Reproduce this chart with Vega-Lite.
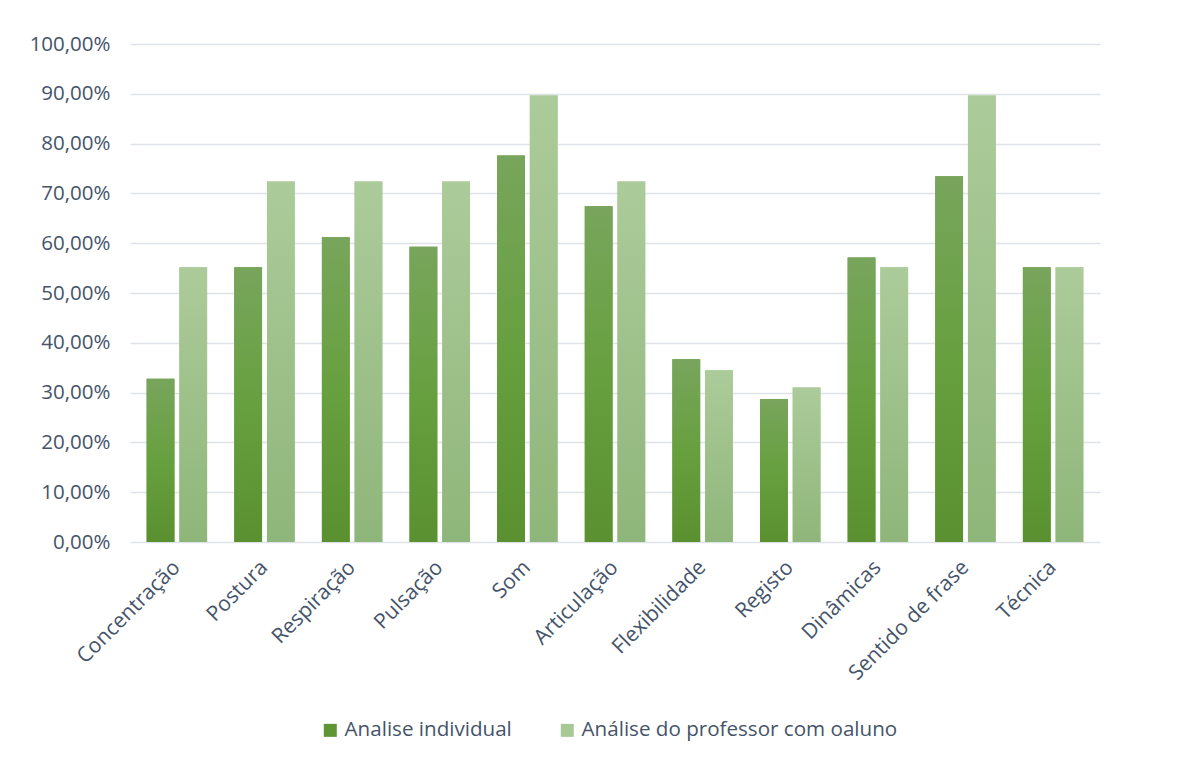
{
  "$schema": "https://vega.github.io/schema/vega-lite/v6.json",
  "width": 970,
  "height": 498,
  "autosize": {"type": "none"},
  "padding": {"left": 130, "top": 44, "right": 92, "bottom": 218},
  "background": "white",
  "config": {
    "view": {"stroke": null},
    "font": "Open Sans",
    "axis": {"labelFont": "Open Sans", "labelColor": "#44546a", "labelFontSize": 18}
  },
  "data": {
    "values": [
      {"categoria": "Concentração", "serie": "Analise individual", "valor": 0.3276},
      {"categoria": "Concentração", "serie": "Análise do professor com oaluno", "valor": 0.5517},
      {"categoria": "Postura", "serie": "Analise individual", "valor": 0.5517},
      {"categoria": "Postura", "serie": "Análise do professor com oaluno", "valor": 0.7241},
      {"categoria": "Respiração", "serie": "Analise individual", "valor": 0.6121},
      {"categoria": "Respiração", "serie": "Análise do professor com oaluno", "valor": 0.7241},
      {"categoria": "Pulsação", "serie": "Analise individual", "valor": 0.5929},
      {"categoria": "Pulsação", "serie": "Análise do professor com oaluno", "valor": 0.7241},
      {"categoria": "Som", "serie": "Analise individual", "valor": 0.7759},
      {"categoria": "Som", "serie": "Análise do professor com oaluno", "valor": 0.8966},
      {"categoria": "Articulação", "serie": "Analise individual", "valor": 0.6741},
      {"categoria": "Articulação", "serie": "Análise do professor com oaluno", "valor": 0.7241},
      {"categoria": "Flexibilidade", "serie": "Analise individual", "valor": 0.3672},
      {"categoria": "Flexibilidade", "serie": "Análise do professor com oaluno", "valor": 0.3448},
      {"categoria": "Registo", "serie": "Analise individual", "valor": 0.2871},
      {"categoria": "Registo", "serie": "Análise do professor com oaluno", "valor": 0.3103},
      {"categoria": "Dinâmicas", "serie": "Analise individual", "valor": 0.5714},
      {"categoria": "Dinâmicas", "serie": "Análise do professor com oaluno", "valor": 0.5517},
      {"categoria": "Sentido de frase", "serie": "Analise individual", "valor": 0.7345},
      {"categoria": "Sentido de frase", "serie": "Análise do professor com oaluno", "valor": 0.8966},
      {"categoria": "Técnica", "serie": "Analise individual", "valor": 0.5517},
      {"categoria": "Técnica", "serie": "Análise do professor com oaluno", "valor": 0.5517}
    ]
  },
  "encoding": {
    "x": {
      "field": "categoria",
      "type": "nominal",
      "sort": null,
      "title": null,
      "scale": {"paddingInner": 0.31, "paddingOuter": 0.19},
      "axis": {
        "labelAngle": -45,
        "labelAlign": "right",
        "labelBaseline": "middle",
        "labelPadding": 22,
        "ticks": false,
        "domain": false,
        "grid": false,
        "labelFontSize": 21,
        "labelLimit": 0
      }
    },
    "xOffset": {
      "field": "serie",
      "type": "nominal",
      "sort": ["Analise individual", "Análise do professor com oaluno"],
      "scale": {"paddingInner": 0.15}
    },
    "y": {
      "field": "valor",
      "type": "quantitative",
      "title": null,
      "scale": {"domain": [0, 1], "nice": false},
      "axis": {
        "values": [0, 0.1, 0.2, 0.3, 0.4, 0.5, 0.6, 0.7, 0.8, 0.9, 1],
        "labelExpr": "replace(format(datum.value, '.2%'), '.', ',')",
        "grid": true,
        "gridColor": "#dfe3e8",
        "gridWidth": 1.5,
        "ticks": false,
        "domain": false,
        "labelPadding": 20,
        "labelFontSize": 20.5
      }
    }
  },
  "layer": [
    {
      "mark": {"type": "bar"},
      "encoding": {
        "color": {
          "field": "serie",
          "type": "nominal",
          "sort": ["Analise individual", "Análise do professor com oaluno"],
          "scale": {"range": ["#5e9634", "#a6c995"]},
          "legend": {
            "title": null,
            "orient": "none",
            "direction": "horizontal",
            "legendX": 190,
            "legendY": 676,
            "symbolType": "square",
            "symbolSize": 169,
            "symbolStrokeWidth": 0,
            "symbolOpacity": 1,
            "labelFont": "Open Sans",
            "labelFontSize": 20.6,
            "labelColor": "#44546a",
            "labelOffset": 4,
            "labelLimit": 0,
            "columnPadding": 45,
            "padding": 0
          }
        }
      }
    },
    {
      "transform": [{"filter": "datum.serie === 'Analise individual'"}],
      "mark": {
        "type": "bar",
        "color": {
          "x1": 0, "y1": 0, "x2": 0, "y2": 1,
          "gradient": "linear",
          "stops": [
            {"offset": 0, "color": "#78a55c"},
            {"offset": 0.5, "color": "#67a03f"},
            {"offset": 1, "color": "#5a9030"}
          ]
        }
      }
    },
    {
      "transform": [{"filter": "datum.serie === 'Análise do professor com oaluno'"}],
      "mark": {
        "type": "bar",
        "color": {
          "x1": 0, "y1": 0, "x2": 0, "y2": 1,
          "gradient": "linear",
          "stops": [
            {"offset": 0, "color": "#accb9a"},
            {"offset": 1, "color": "#8fb67a"}
          ]
        }
      }
    }
  ]
}
